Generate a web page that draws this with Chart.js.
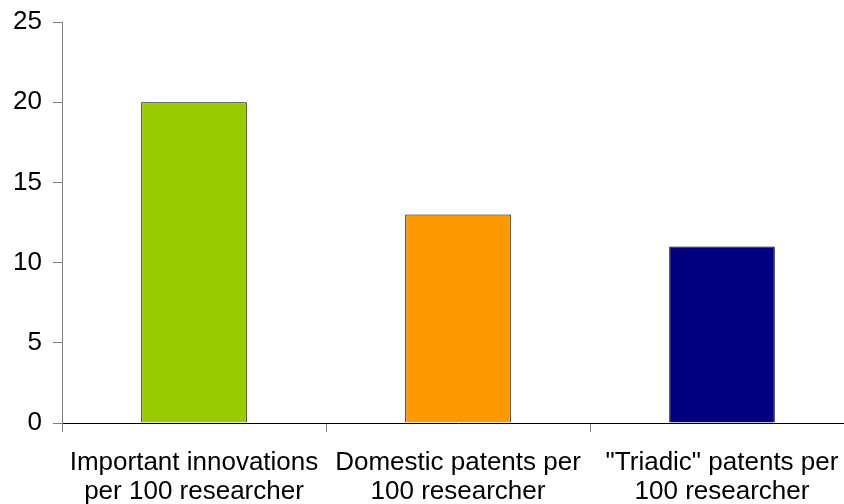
<!DOCTYPE html>
<html>
<head>
<meta charset="utf-8">
<script src="https://cdn.jsdelivr.net/npm/chart.js@4/dist/chart.umd.min.js"></script>
<style>
    html, body { margin: 0; padding: 0; background: #fff; overflow: hidden; }
    #wrap { position: relative; width: 856px; height: 504px; }
</style>
</head>
<body>
<div id="wrap"><canvas id="chart-canvas"></canvas></div>
<script>
    // Chart data
    const categories = [
        ['Important innovations', 'per 100 researcher'],
        ['Domestic patents per', '100 researcher'],
        ['"Triadic" patents per', '100 researcher']
    ];
    const values = [20, 13, 11];
    const barColors = ['#99CC00', '#FF9900', '#000080'];
    const yTicks = [0, 5, 10, 15, 20, 25];

    const font = { family: 'Arial, "Liberation Sans", sans-serif', size: 26 };

    new Chart(document.getElementById('chart-canvas'), {
        type: 'bar',
        data: {
            labels: categories,
            datasets: [{
                data: values,
                backgroundColor: barColors,
                borderColor: '#000',
                borderWidth: 1,
                categoryPercentage: 1,
                barPercentage: 0.4
            }]
        },
        options: {
            responsive: true,
            maintainAspectRatio: false,
            animation: false,
            layout: { padding: { top: 22, right: 2, left: 0, bottom: 0 } },
            plugins: {
                legend: { display: false },
                tooltip: { enabled: false }
            },
            scales: {
                x: {
                    grid: {
                        offset: true,
                        drawOnChartArea: false,
                        drawTicks: true,
                        tickLength: 9,
                        color: '#808080'
                    },
                    border: { color: '#000', width: 1 },
                    ticks: {
                        color: '#000',
                        font: Object.assign({ lineHeight: 1.115 }, font),
                        padding: 16,
                        maxRotation: 0,
                        autoSkip: false
                    },
                    afterFit: function(scale) { scale.height = 81; }
                },
                y: {
                    min: 0,
                    max: 25,
                    afterBuildTicks: function(scale) {
                        scale.ticks = yTicks.map(v => ({ value: v }));
                    },
                    grid: {
                        drawOnChartArea: false,
                        drawTicks: true,
                        tickLength: 9,
                        color: '#808080'
                    },
                    border: { color: '#808080', width: 1 },
                    ticks: {
                        color: '#000',
                        font: Object.assign({ lineHeight: 0.8 }, font),
                        padding: 11
                    },
                    afterFit: function(scale) { scale.width = 62; }
                }
            }
        }
    });
</script>
</body>
</html>
